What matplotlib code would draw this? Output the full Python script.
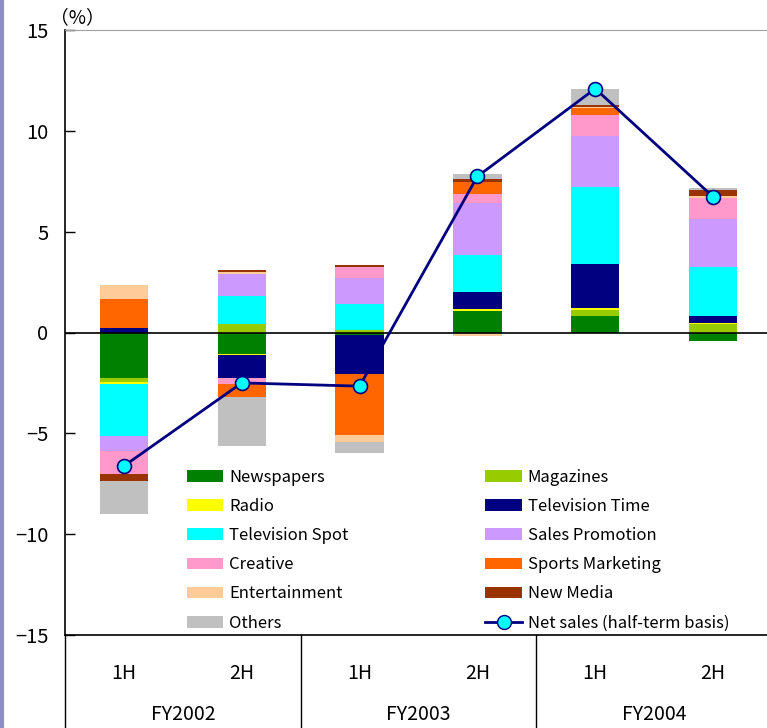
import matplotlib
matplotlib.use("Agg")
import matplotlib.pyplot as plt
import matplotlib.transforms as mtransforms
from matplotlib.lines import Line2D
from matplotlib.patches import Patch
import numpy as np

plt.rcParams["font.family"] = ["Noto Sans CJK JP", "DejaVu Sans"]

periods = ["1H", "2H", "1H", "2H", "1H", "2H"]
fiscal_years = ["FY2002", "FY2003", "FY2004"]

# year-on-year contribution by business line (percentage points)
newspapers = [-2.27, -1.09, -0.12, 1.06, 0.81, -0.43]
magazines = [-0.17, 0.41, 0.10, 0.00, 0.30, 0.41]
radio = [-0.13, -0.05, 0.00, 0.10, 0.10, 0.05]
tv_time = [0.20, -1.14, -1.94, 0.84, 2.18, 0.35]
tv_spot = [-2.55, 1.41, 1.31, 1.82, 3.81, 2.43]
sales_promotion = [-0.74, 1.06, 1.27, 2.58, 2.55, 2.38]
creative = [-1.14, -0.25, 0.55, 0.46, 1.04, 1.04]
sports_marketing = [1.44, -0.65, -3.03, 0.60, 0.36, 0.00]
entertainment = [0.74, 0.10, -0.35, -0.18, 0.05, 0.10]
new_media = [-0.35, 0.10, 0.10, 0.15, 0.10, 0.30]
others = [-1.67, -2.47, -0.53, 0.25, 0.78, 0.10]
net_sales = [-6.62, -2.50, -2.66, 7.74, 12.09, 6.73]

series = [
    ("Newspapers", newspapers, "#008000"),
    ("Magazines", magazines, "#99CC00"),
    ("Radio", radio, "#FFFF00"),
    ("Television Time", tv_time, "#000080"),
    ("Television Spot", tv_spot, "#00FFFF"),
    ("Sales Promotion", sales_promotion, "#CC99FF"),
    ("Creative", creative, "#FF99CC"),
    ("Sports Marketing", sports_marketing, "#FF6600"),
    ("Entertainment", entertainment, "#FFCC99"),
    ("New Media", new_media, "#993300"),
    ("Others", others, "#C0C0C0"),
]

fig = plt.figure(figsize=(7.67, 7.28), dpi=100)
ax = fig.add_axes([65 / 767, 93 / 728, 707 / 767, 605 / 728])

x = np.arange(len(periods))
pos = np.zeros(len(periods))
neg = np.zeros(len(periods))
for name, vals, color in series:
    vals = np.asarray(vals, dtype=float)
    bottom = np.where(vals >= 0, pos, neg)
    ax.bar(x, vals, width=0.41, bottom=bottom, color=color, linewidth=0, zorder=2)
    pos = pos + np.clip(vals, 0, None)
    neg = neg + np.clip(vals, None, 0)

ax.axhline(0, color="black", linewidth=1.2, zorder=3)
ax.plot(x, net_sales, color="#000080", linewidth=2.0, marker="o", markersize=10,
        markerfacecolor="#00FFFF", markeredgecolor="#000080", markeredgewidth=1.2, zorder=4)

ax.set_xlim(-0.5, len(periods) - 0.5)
ax.set_ylim(-15, 15)
ax.set_yticks([-15, -10, -5, 0, 5, 10, 15])
ax.set_yticklabels(["\u221215", "\u221210", "\u22125", "0", "5", "10", "15"])
ax.tick_params(axis="y", direction="in", length=7, width=1, labelsize=14.5, pad=12)
ax.set_xticks(x)
ax.set_xticklabels(periods)
ax.tick_params(axis="x", length=0, labelsize=14, pad=20)

ax.spines["right"].set_visible(False)
ax.spines["top"].set_color("#A0A0A0")
ax.spines["left"].set_linewidth(1.2)
ax.spines["bottom"].set_linewidth(1.2)

# category axis below: year separators and fiscal year labels
trans = mtransforms.blended_transform_factory(ax.transData, ax.transAxes)
bottom_y = -93 / 605
for xs in [-0.5, 1.5, 3.5]:
    ax.add_line(Line2D([xs, xs], [0, bottom_y], transform=trans, color="black",
                       linewidth=1.0, clip_on=False))
for i, fy in enumerate(fiscal_years):
    ax.text(2 * i + 0.5, -80 / 605, fy, transform=trans, ha="center", va="center",
            fontsize=14)

ax.text(-0.021, 1.02, "\uff08%\uff09", transform=ax.transAxes, ha="left", va="center",
        fontsize=13.5)

# legend, filled column by column
order = [0, 2, 4, 6, 8, 10, 1, 3, 5, 7, 9]
handles = [Patch(facecolor=series[i][2], edgecolor="none") for i in order]
labels = [series[i][0] for i in order]
net_handle = Line2D([], [], color="#000080", linewidth=2.0, marker="o", markersize=10,
                    markerfacecolor="#00FFFF", markeredgecolor="#000080")
handles.append(net_handle)
labels.append("Net sales (half-term basis)")
ax.legend(handles, labels, ncol=2, frameon=False, loc="upper left",
          bbox_to_anchor=(180 / 767, 1 - 462 / 728), bbox_transform=fig.transFigure,
          fontsize=12, handlelength=2.2, handleheight=0.7, handletextpad=0.35,
          labelspacing=0.73, columnspacing=8.2, borderaxespad=0)

# slide frame on the left edge
fig.add_artist(Line2D([2 / 767, 2 / 767], [0, 1], transform=fig.transFigure,
                      color="#9090C0", linewidth=3))

fig.savefig("out.png", dpi=100)
